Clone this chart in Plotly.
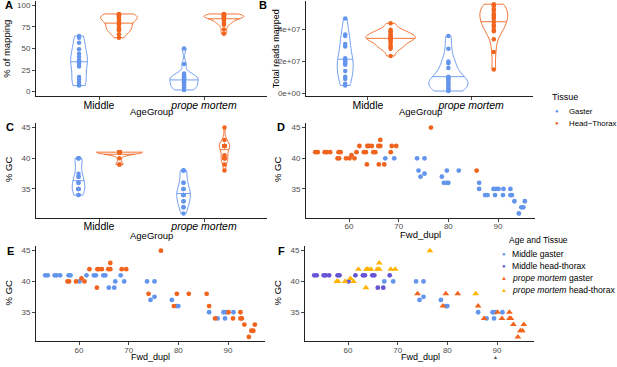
import numpy as np
import plotly.graph_objects as go

# ---------------- data ----------------
age_groups = ["Middle", "prope mortem"]
tissues = ["Gaster", "Head-Thorax"]

# Panel A: % of mapping
mapping_middle_gaster = [64.5, 62.5, 56.5, 49, 44, 40, 36.5, 34, 32, 29, 17, 14, 10.5, 8, 7]
mapping_middle_ht = [90, 89.5, 88.5, 87.5, 86.5, 85.5, 84, 82.5, 80.5, 78, 75, 73, 72, 71, 66.5, 62.5]
mapping_pm_gaster = [50, 32, 21, 19, 17, 16.5, 15.5, 14, 12, 11, 9, 7, 5.5, 4.5, 3, 2]
mapping_pm_ht = [90, 89.5, 89, 88.5, 88, 87.5, 87, 86.5, 86, 85, 84, 83, 81, 79, 77.5, 72, 67]

# Panel B: total reads mapped
reads_middle_gaster = [4.7e7, 3.7e7, 3.6e7, 3.1e7, 2.95e7, 2.2e7, 2.05e7, 2.0e7, 1.9e7, 1.8e7, 1.4e7, 1.05e7, 0.9e7, 0.6e7, 0.5e7]
reads_middle_ht = [4.4e7, 4.0e7, 3.9e7, 3.8e7, 3.7e7, 3.6e7, 3.55e7, 3.5e7, 3.45e7, 3.4e7, 3.3e7, 3.2e7, 3.0e7, 2.9e7, 2.8e7, 2.35e7]
reads_pm_gaster = [3.6e7, 2.8e7, 2.0e7, 1.9e7, 1.6e7, 1.05e7, 0.95e7, 0.9e7, 0.85e7, 0.7e7, 0.6e7, 0.5e7, 0.4e7, 0.3e7, 0.2e7, 0.15e7]
reads_pm_ht = [5.6e7, 5.55e7, 5.5e7, 5.3e7, 5.2e7, 5.0e7, 4.9e7, 4.8e7, 4.7e7, 4.5e7, 4.3e7, 4.2e7, 4.0e7, 3.9e7, 3.4e7, 2.6e7, 1.5e7]

# Panels C-F: Fwd_dupl and %GC
fwd_middle_gaster = [67.3, 69.1, 73.7, 75.2, 75.2, 74.4, 78.7, 79.7, 80.0, 86.2, 89.1, 89.6, 91.1, 87.9, 89.4]
gc_middle_gaster = [40, 40, 40, 40, 37.5, 37, 37, 36, 36, 35, 35, 35, 35, 34, 34]

fwd_middle_ht = [53.2, 53.7, 55.1, 55.5, 56.2, 57.9, 58.3, 61.5, 63.0, 63.4, 64.9, 65.3, 68.4, 60.1, 66.0, 67.1]
gc_middle_ht = [41, 41, 41, 41, 41, 41, 41, 41, 41, 41, 41, 41, 41, 40, 39, 39]

fwd_pm_gaster = [74.0, 79.7, 82.1, 79.1, 86.2, 90.1, 92.5, 87.4, 91.0, 92.5, 92.8, 93.3, 95.4, 94.7, 95.1, 94.2]
gc_pm_gaster = [38, 38, 38, 36, 36, 35, 35, 34, 34, 34, 34, 33, 33, 32, 32, 31]

fwd_pm_ht = [62.1, 63.7, 64.0, 64.6, 65.9, 66.3, 68.6, 69.5, 66.3, 76.5, 57.7, 58.0, 59.4, 61.1, 60.5, 63.6, 85.7]
gc_pm_ht = [42, 42, 42, 42, 42, 42, 42, 42, 43, 45, 40, 40, 40, 40, 40.5, 39, 38]

y_ticks_map = [0, 25, 50, 75, 100]
y_ticks_reads = [0, 2e7, 4e7]
y_ticklabels_reads = ["0e+00", "2e+07", "4e+07"]
y_ticks_gc = [35, 40, 45]
x_ticks_fwd = [60, 70, 80, 90]

# ---------------- styling ----------------
W, H = 617, 367
FONT = "Liberation Sans, Arial, Helvetica, sans-serif"
BLUE = "#6495ED"
ORANGE = "#F0641E"
PURPLE = "#6656D6"
YELLOW = "#FFB300"
TICKGRAY = "#4D4D4D"


def xd(a, b):
    return [a / W, b / W]


def yd(top, bottom):
    return [1 - bottom / H, 1 - top / H]


def nrd0(v):
    v = np.asarray(v, float)
    sd = v.std(ddof=1)
    q75, q25 = np.percentile(v, [75, 25])
    lo = min(sd, (q75 - q25) / 1.34)
    if lo == 0:
        lo = sd if sd > 0 else (abs(v[0]) if v[0] != 0 else 1)
    return 0.9 * lo * len(v) ** -0.2


def density_median(vals, width):
    """Median of the trimmed kernel density (as ggplot's draw_quantiles) and
    the violin half-width there, relative to the violin's maximum width."""
    v = np.asarray(vals, float)
    bw = nrd0(v)
    grid = np.linspace(v.min(), v.max(), 512)
    dens = np.exp(-0.5 * ((grid[:, None] - v[None, :]) / bw) ** 2).sum(1)
    cdf = np.cumsum(dens)
    cdf = cdf / cdf[-1]
    q = float(np.interp(0.5, cdf, grid))
    half = width / 2 * float(np.interp(q, grid, dens)) / dens.max()
    return q, half


fig = go.Figure()


def add_violin(vals, pos, width, color, ax):
    fig.add_trace(go.Violin(
        x=[pos] * len(vals), y=vals, xaxis="x" + ax, yaxis="y" + ax,
        width=width, bandwidth=nrd0(vals), spanmode="hard", scalemode="width",
        points="all", pointpos=0, jitter=0,
        line=dict(color=color, width=0.9), fillcolor="rgba(0,0,0,0)",
        marker=dict(color=color, size=4.5, line=dict(width=0)),
        meanline=dict(visible=False),
        box=dict(visible=False), showlegend=False, hoveron="points"))
    q, half = density_median(vals, width)
    fig.add_trace(go.Scatter(
        x=[pos - half, pos + half], y=[q, q], mode="lines", xaxis="x" + ax, yaxis="y" + ax,
        line=dict(color=color, width=0.9), showlegend=False, hoverinfo="skip"))


# Panel A
oa = 0.19
add_violin(mapping_middle_gaster, 1 - oa, 0.16, BLUE, "")
add_violin(mapping_middle_ht, 1 + oa, 0.35, ORANGE, "")
add_violin(mapping_pm_gaster, 2 - oa, 0.27, BLUE, "")
add_violin(mapping_pm_ht, 2 + oa, 0.38, ORANGE, "")
# Panel B
ob = 0.22
add_violin(reads_middle_gaster, 1 - ob, 0.155, BLUE, "2")
add_violin(reads_middle_ht, 1 + ob, 0.48, ORANGE, "2")
add_violin(reads_pm_gaster, 2 - ob, 0.38, BLUE, "2")
add_violin(reads_pm_ht, 2 + ob, 0.27, ORANGE, "2")
# Panel C
oc = 0.195
add_violin(gc_middle_gaster, 1 - oc, 0.12, BLUE, "3")
add_violin(gc_middle_ht, 1 + oc, 0.44, ORANGE, "3")
add_violin(gc_pm_gaster, 2 - oc, 0.13, BLUE, "3")
add_violin(gc_pm_ht, 2 + oc, 0.10, ORANGE, "3")


def add_points(xs, ys, color, ax, symbol="circle", size=4.8):
    fig.add_trace(go.Scatter(
        x=xs, y=ys, mode="markers", xaxis="x" + ax, yaxis="y" + ax,
        marker=dict(color=color, size=size, symbol=symbol, line=dict(width=0)),
        showlegend=False))


# Panel D: colour by tissue
add_points(fwd_middle_gaster + fwd_pm_gaster, gc_middle_gaster + gc_pm_gaster, BLUE, "4")
add_points(fwd_middle_ht + fwd_pm_ht, gc_middle_ht + gc_pm_ht, ORANGE, "4")
# Panel E: colour by age group
add_points(fwd_middle_gaster + fwd_middle_ht, gc_middle_gaster + gc_middle_ht, BLUE, "5")
add_points(fwd_pm_gaster + fwd_pm_ht, gc_pm_gaster + gc_pm_ht, ORANGE, "5")
# Panel F: age and tissue
add_points(fwd_middle_gaster, gc_middle_gaster, BLUE, "6")
add_points(fwd_middle_ht, gc_middle_ht, PURPLE, "6")
add_points(fwd_pm_gaster, gc_pm_gaster, ORANGE, "6", "triangle-up", 6)
add_points(fwd_pm_ht, gc_pm_ht, YELLOW, "6", "triangle-up", 6)

axis_common = dict(showgrid=False, zeroline=False, showline=True, linecolor="#222", linewidth=1,
                   ticks="outside", ticklen=3, tickwidth=1, tickcolor="#444",
                   tickfont=dict(size=8, color=TICKGRAY, family=FONT))

cat_x = dict(range=[0.4, 2.6], tickvals=[1, 2], ticktext=[age_groups[0], "<i>" + age_groups[1] + "</i>"],
             ticklabelstandoff=-4)
cat_font = dict(size=10.5, color="black", family=FONT)

fwd_range = [51.34, 97.45]
gc_range = [30.3, 45.7]
fwd_x = dict(range=fwd_range, tickvals=x_ticks_fwd, ticklabelstandoff=-2)

layout_axes = {
    "xaxis": dict(axis_common, domain=xd(36, 267), anchor="y", **cat_x),
    "yaxis": dict(axis_common, domain=yd(1, 96.5), anchor="x", range=[-5, 105], tickvals=y_ticks_map),
    "xaxis2": dict(axis_common, domain=xd(306, 533), anchor="y2", **cat_x),
    "yaxis2": dict(axis_common, domain=yd(1, 96.5), anchor="x2", range=[-1.6e6, 5.8e7],
                   tickvals=y_ticks_reads, ticktext=y_ticklabels_reads),
    "xaxis3": dict(axis_common, domain=xd(36, 267), anchor="y3", **cat_x),
    "yaxis3": dict(axis_common, domain=yd(124, 219), anchor="x3", range=gc_range, tickvals=y_ticks_gc),
    "xaxis4": dict(axis_common, domain=xd(306, 535), anchor="y4", **fwd_x),
    "yaxis4": dict(axis_common, domain=yd(124, 219), anchor="x4", range=gc_range, tickvals=y_ticks_gc),
    "xaxis5": dict(axis_common, domain=xd(36, 265), anchor="y5", **fwd_x),
    "yaxis5": dict(axis_common, domain=yd(247.7, 343.1), anchor="x5", range=gc_range, tickvals=y_ticks_gc),
    "xaxis6": dict(axis_common, domain=xd(305, 534), anchor="y6", **fwd_x),
    "yaxis6": dict(axis_common, domain=yd(247.7, 343.1), anchor="x6", range=gc_range, tickvals=y_ticks_gc),
}
for k in ["xaxis", "xaxis2", "xaxis3"]:
    layout_axes[k]["tickfont"] = cat_font

annotations = []


def txt(text, x, y, size=9.5, color="black", bold=False, angle=0, xanchor="center"):
    t = "<b>" + text + "</b>" if bold else text
    annotations.append(dict(text=t, x=x / W, y=1 - y / H, xref="paper", yref="paper",
                            showarrow=False, xanchor=xanchor, yanchor="middle", textangle=angle,
                            font=dict(size=size, color=color, family=FONT)))


# panel labels
for lab, x, y in [("A", 8.5, 5), ("B", 263, 5), ("C", 10.5, 127.5), ("D", 281, 127.5),
                  ("E", 10.5, 252), ("F", 281, 252)]:
    txt(lab, x, y, size=11, bold=True)

# axis titles
txt("AgeGroup", 151.5, 112)
txt("AgeGroup", 420, 112)
txt("AgeGroup", 151.5, 237)
txt("Fwd_dupl", 420, 236)
txt("Fwd_dupl", 150, 358.5, size=9)
txt("Fwd_dupl", 420, 358.5, size=9)
txt("% of mapping", 7, 49, angle=-90)
txt("Total reads mapped", 275.5, 49, size=9, angle=-90)
txt("% GC", 8, 171, angle=-90)
txt("% GC", 277, 171, angle=-90)
txt("% GC", 8, 295, angle=-90)
txt("% GC", 277, 295, angle=-90)

# legend: Tissue
txt("Tissue", 550, 97.5, size=9, xanchor="left")
txt("●", 557.3, 112, size=6, color=BLUE)
txt("●", 557.3, 124, size=6, color=ORANGE)
txt(tissues[0], 567, 112, size=7.8, xanchor="left")
txt("Head\u2212Thorax", 567, 124, size=7.8, xanchor="left")

# legend: Age and Tissue
txt("Age and Tissue", 507, 241, size=8.5, xanchor="left")
txt("●", 504, 255, size=6, color=BLUE)
txt("●", 504, 267, size=6, color=PURPLE)
txt("▲", 504, 279.5, size=6, color=ORANGE)
txt("▲", 504, 291.5, size=6, color=YELLOW)
txt("Middle gaster", 510, 255, size=8.6, xanchor="left")
txt("Middle head-thorax", 510, 267, size=8.6, xanchor="left")
txt("<i>prope mortem</i> gaster", 510, 279.5, size=8.6, xanchor="left")
txt("<i>prope mortem</i> head-thorax", 510, 291.5, size=8.6, xanchor="left")
# small stray glyph visible under the "90" tick of panel F in the reference
txt("▲", 495, 358.5, size=5, color="#444")

fig.update_layout(
    width=W, height=H, margin=dict(l=0, r=0, t=0, b=0),
    paper_bgcolor="white", plot_bgcolor="white", showlegend=False,
    font=dict(family=FONT), violinmode="overlay", annotations=annotations,
    **layout_axes)

fig.write_html("out.html", config={"displayModeBar": False},
               post_script="document.body.style.margin='0px';document.body.style.overflow='hidden';")
